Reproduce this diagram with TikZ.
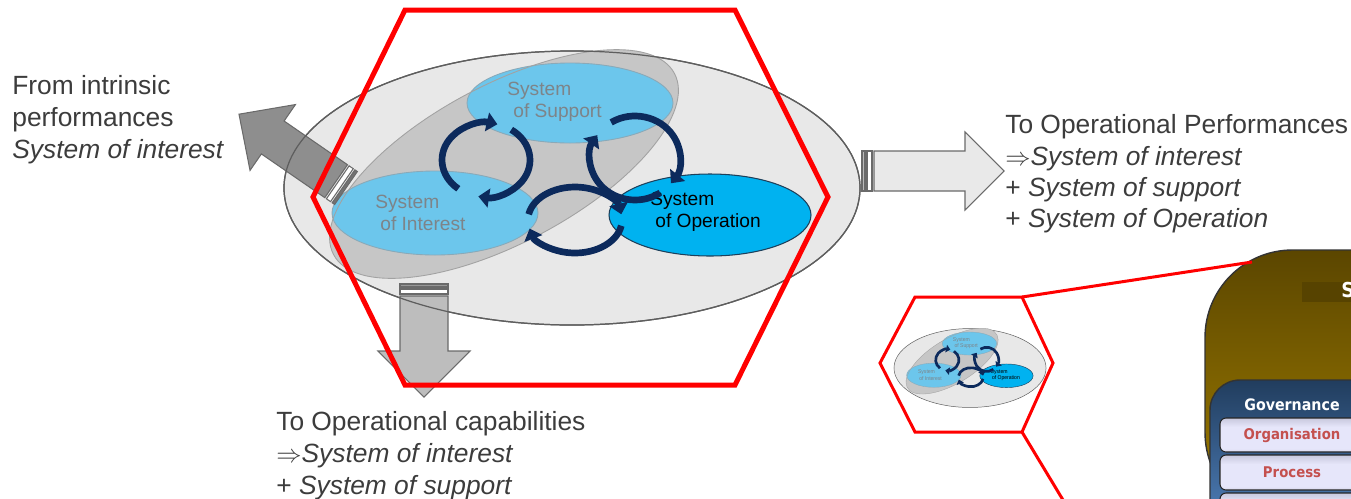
\documentclass[tikz,border=0pt]{standalone}
\usepackage{fontspec}
\setmainfont{Liberation Sans}
\newfontfamily\panelfont{DejaVu Sans}[FakeStretch=0.9]
\usetikzlibrary{arrows.meta}

\definecolor{inkgray}{HTML}{3C3C3C}
\definecolor{ctxgray}{HTML}{E8E8E8}
\definecolor{ctxedge}{HTML}{5E5E5E}
\definecolor{envgray}{HTML}{C6C6C6}
\definecolor{envedge}{HTML}{A2A2A2}
\definecolor{paleblue}{HTML}{6CC6EC}
\definecolor{paleedge}{HTML}{8AA9B8}
\definecolor{opblue}{HTML}{00B2F0}
\definecolor{opedge}{HTML}{1D3F5A}
\definecolor{labelgray}{HTML}{7D8489}
\definecolor{cycnavy}{HTML}{0C2A5C}
\definecolor{hexred}{HTML}{FF0000}
\definecolor{arrowedge}{HTML}{6A6A6A}
\definecolor{darkarrow}{HTML}{8E8E8E}
\definecolor{midarrow}{HTML}{BDBDBD}
\definecolor{lightarrow}{HTML}{E9E9E9}
\definecolor{brownA}{HTML}{5B4600}
\definecolor{brownB}{HTML}{9A7800}
\definecolor{brownC}{HTML}{A27F00}
\definecolor{bandbrown}{HTML}{574300}
\definecolor{navyA}{HTML}{213D5E}
\definecolor{navyB}{HTML}{5A8FD0}
\definecolor{btnA}{HTML}{8E8EA4}
\definecolor{btnB}{HTML}{E6E6FA}
\definecolor{btnC}{HTML}{7E7E94}
\definecolor{btnred}{HTML}{C4504E}

% light lavender face with darker rims
\pgfdeclareverticalshading{btnshade}{100bp}{color(0bp)=(btnC); color(30bp)=(btnB); color(62bp)=(btnB); color(100bp)=(btnA)}

\tikzset{
  note/.style={anchor=base west, inner sep=0pt, text=inkgray, font=\fontsize{15}{18}\selectfont},
  syslabel/.style={anchor=west, align=left, inner sep=0pt, font=\fontsize{10.9}{12.5}\selectfont},
  cyc/.style={draw=cycnavy, line width=#1, -{Triangle[length=0pt 1.6, width=0pt 2.8]}},
  hexline/.style={draw=hexred, line width=0.1cm, line join=miter},
  zoomline/.style={draw=hexred, line width=0.06cm},
  arrowline/.style={draw=arrowedge, line width=0.6pt},
  button/.style={draw=black!85, line width=0.6pt, rounded corners=0.12cm, shading=btnshade},
  btntext/.style={text=btnred, inner sep=0pt, font=\panelfont\bfseries\fontsize{8.4}{10}\selectfont},
}

% the three systems inside their context, drawn round the origin
\newcommand{\systemview}[2]{%
  \filldraw[fill=ctxgray, draw=ctxedge, line width=#2*0.7pt] (0,0) ellipse [x radius=288, y radius=137];
  \fill[envgray, rotate around={28:(-68,-24)}] (-68,-24) ellipse [x radius=193, y radius=79];
  \filldraw[fill=paleblue, draw=paleedge, line width=#2*0.5pt] (-2,-85) ellipse [x radius=103, y radius=40];
  \filldraw[fill=paleblue, draw=paleedge, line width=#2*0.5pt] (-137,25) ellipse [x radius=103, y radius=42];
  \draw[envedge, line width=#2*0.5pt, rotate around={28:(-68,-24)}] (-68,-24) ellipse [x radius=193, y radius=79];
  \filldraw[fill=opblue, draw=opedge, line width=#2*0.6pt] (138,27) ellipse [x radius=101, y radius=41];
  \node[syslabel, text=labelgray] (#1-sup) at (-65,-86) {System\\\hspace*{0.12cm}of Support};
  \node[syslabel, text=labelgray] (#1-int) at (-197,24.5) {System\\\hspace*{0.1cm}of Interest};
  \node[syslabel, text=black] (#1-ope) at (78,24) {System\\\hspace*{0.1cm}of Operation};
  \coordinate (#1-c1) at (-86,-28);
  \coordinate (#1-c2) at (63,-30);
  \coordinate (#1-c3) at (3,32);
  \draw[cyc=#2*3.8pt] (#1-c1) ++(129:44 and 37) arc [start angle=129, end angle=285, x radius=44, y radius=37];
  \draw[cyc=#2*3.8pt] (#1-c1) ++(305:44 and 37) arc [start angle=305, end angle=460, x radius=44, y radius=37];
  \draw[cyc=#2*3.8pt] (#1-c2) ++(56:45 and 42) arc [start angle=56, end angle=213, x radius=45, y radius=42];
  \draw[cyc=#2*3.8pt] (#1-c2) ++(238:45 and 42) arc [start angle=238, end angle=397, x radius=45, y radius=42];
  \draw[cyc=#2*3.8pt] (#1-c3) ++(190:47 and 33) arc [start angle=190, end angle=350, x radius=47, y radius=33];
  \draw[cyc=#2*3.8pt] (#1-c3) ++(10:47 and 33) arc [start angle=10, end angle=165, x radius=47, y radius=33];
}

% base, direction, length, shaft half width, head half width, head length, fill
\newcommand{\blockarrow}[7]{%
  \begin{scope}[shift={#1}, rotate=#2]
    \filldraw[arrowline, fill=#7!80!black] (0,-#4) rectangle (3,#4);
    \filldraw[arrowline, fill=white] (5,-#4) rectangle (10,#4);
    \filldraw[arrowline, fill=#7] (12,-#4) -- ({#3-#6},-#4) -- ({#3-#6},-#5) -- (#3,0)
      -- ({#3-#6},#5) -- ({#3-#6},#4) -- (12,#4) -- cycle;
  \end{scope}}

\begin{document}
\begin{tikzpicture}[x=0.02cm, y=-0.02cm]
\useasboundingbox (0,0) rectangle (1351,498);

\begin{scope}[shift={(572,188)}]
  \systemview{main}{1}
\end{scope}

\blockarrow{(346,188)}{145.4}{130}{20}{40}{41}{darkarrow}
\blockarrow{(424,284)}{-90}{113}{24}{46}{46}{midarrow}
\blockarrow{(862,171)}{0}{142}{20}{39}{39}{lightarrow}
\draw[ctxedge, line width=0.7pt] (572,188) ellipse [x radius=288, y radius=137];

\draw[hexline] (405,10) -- (735,10) -- (828,197) -- (735,385) -- (405,385) -- (313,197) -- cycle;

\node[note] (from1) at (12,94.5) {From intrinsic};
\node[note] (from2) at (12,126.5) {performances};
\node[note] (from3) at (12,158.5) {\textit{System of interest}};

\node[note] (perf1) at (1005,133) {To Operational Performances};
\node[note] (perf2) at (1005,165) {$\Rightarrow$\textit{System of interest}};
\node[note] (perf3) at (1005,196) {+ \textit{System of support}};
\node[note] (perf4) at (1005,227) {+ \textit{System of Operation}};

\node[note] (capa1) at (276,430) {To Operational capabilities};
\node[note] (capa2) at (276,462) {$\Rightarrow$\textit{System of interest}};
\node[note] (capa3) at (276,494) {+ \textit{System of support}};

% organisation panel on the right
\begin{scope}
  \clip (0,0) rectangle (1351,498);
  \draw[draw=black!80, line width=0.8pt, rounded corners=1.75cm, top color=brownA, middle color=brownB, bottom color=brownC] (1205,250) rectangle (1440,520);
  \fill[bandbrown] (1302,282) rectangle (1440,302);
  \node[anchor=west, inner sep=0pt, text=white, font=\panelfont\bfseries\fontsize{11.7}{14}\selectfont] (head) at (1341,290) {S};
  \draw[draw=black!80, line width=0.8pt, rounded corners=0.6cm, top color=navyA, bottom color=navyB] (1210,380) rectangle (1440,560);
  \node[inner sep=0pt, text=white, font=\panelfont\bfseries\fontsize{9}{11}\selectfont] (gov) at (1292,405) {Governance};
  \draw[button] (1220,418) rectangle (1440,452);
  \node[btntext] (orga) at (1292,435) {Organisation};
  \draw[button] (1220,455) rectangle (1440,490);
  \node[btntext] (proc) at (1292,472.5) {Process};
  \draw[button] (1220,493) rectangle (1440,530);
\end{scope}

% zoomed copy
\begin{scope}[shift={(970,368)}, xscale=0.264, yscale=0.288, transform shape]
  \systemview{mini}{0.4}
\end{scope}
\draw[zoomline] (915,297) -- (1022,297) coordinate (zoomNE) -- (1053,363) -- (1022,432) coordinate (zoomSE) -- (915,432) -- (880,363) -- cycle;
\coordinate (panelNW) at (1252,262);
\coordinate (panelS) at (1063,500);
\draw[zoomline] (zoomNE) -- (panelNW);
\draw[zoomline] (zoomSE) -- (panelS);
\end{tikzpicture}
\end{document}
